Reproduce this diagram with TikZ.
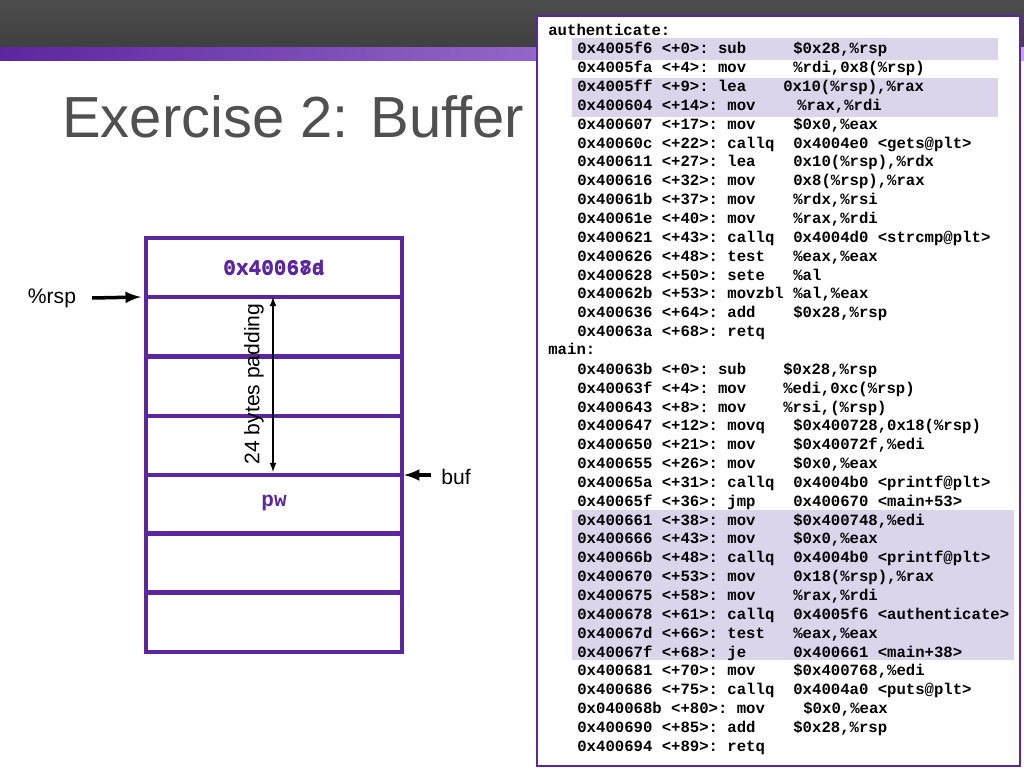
\documentclass[tikz,border=0pt]{standalone}
\usepackage{fontspec}
\setmainfont{Liberation Sans}
\setmonofont{Liberation Mono}
\begin{document}
\begin{tikzpicture}[x=0.02cm,y=-0.02cm]
  \definecolor{kPurple}{RGB}{92,38,160}
  \definecolor{kHigh}{RGB}{220,212,234}
  \definecolor{kTitle}{RGB}{80,80,80}
  \tikzset{
    cell/.style={draw=kPurple,line width=2pt},
    code/.style={anchor=base west,inner sep=0pt,font=\ttfamily\bfseries\fontsize{8.9}{10}\selectfont},
    val/.style={font=\ttfamily\bfseries\fontsize{12}{12}\selectfont,text=kPurple},
    pointer/.style={-latex,line width=2pt}
  }
  \useasboundingbox (0,0) rectangle (1024,768);
  % slide header
  \shade[top color=black!70,bottom color=black!75] (0,0) rectangle (1024,47);
  \shade[left color=kPurple,right color={rgb,255:red,200;green,160;blue,236}] (0,47) rectangle (1024,60);
  \node[anchor=west,text=kTitle,font=\fontsize{33}{33}\selectfont] (title) at (56,117) {Exercise 2: Buffer Overflow};

  % stack
  \foreach \y in {238,297,357,416,475,533,593}
    \draw[cell] (146,\y) rectangle (402,\y+59);
  \node[val] (ret1) at (274,268) {0x40067d};
  \node[val] (ret2) at (274,268) {0x40068a};
  \node[val] (pw) at (274,503) {pw};
  \coordinate (padtop) at (273,297);
  \coordinate (padbot) at (273,472);
  \draw[latex-latex,thick] (padtop) -- (padbot);
  \node[rotate=90,font=\fontsize{12}{12}\selectfont] (pad) at (254,384) {24 bytes padding};
  \node[font=\fontsize{12}{12}\selectfont] (rsp) at (52,298) {\%rsp};
  \coordinate (rspend) at (141,297);
  \draw[pointer] (rsp.east) ++(10,0) -- (rspend);
  \node[font=\fontsize{12}{12}\selectfont] (buf) at (456,477) {buf};
  \coordinate (bufend) at (404,475);
  \draw[pointer] (buf.west) ++(-4,-2) -- (bufend);

  % disassembly
  \draw[fill=white,draw=kPurple,line width=1.6pt] (537,16) rectangle (1020,766);
  \fill[kHigh] (572,38) rectangle (998,60);
  \fill[kHigh] (572,78) rectangle (998,117);
  \fill[kHigh] (572,510) rectangle (1014,660);
  \node[code] (auth) at (548,35) {authenticate:};
  \node[code] (main) at (548,354) {main:};
  \foreach \k/\a/\o/\x in {
      1/0x4005f6 <+0>: sub/{\$0x28,\%rsp}/793,
      2/0x4005fa <+4>: mov/{\%rdi,0x8(\%rsp)}/793,
      3/0x4005ff <+9>: lea/{0x10(\%rsp),\%rax}/783,
      4/0x400604 <+14>: mov/{\%rax,\%rdi}/797,
      5/0x400607 <+17>: mov/{\$0x0,\%eax}/793,
      6/0x40060c <+22>: callq/{0x4004e0 <gets@plt>}/793,
      7/0x400611 <+27>: lea/{0x10(\%rsp),\%rdx}/793,
      8/0x400616 <+32>: mov/{0x8(\%rsp),\%rax}/793,
      9/0x40061b <+37>: mov/{\%rdx,\%rsi}/793,
      10/0x40061e <+40>: mov/{\%rax,\%rdi}/793,
      11/0x400621 <+43>: callq/{0x4004d0 <strcmp@plt>}/793,
      12/0x400626 <+48>: test/{\%eax,\%eax}/793,
      13/0x400628 <+50>: sete/{\%al}/793,
      14/0x40062b <+53>: movzbl/{\%al,\%eax}/793,
      15/0x400636 <+64>: add/{\$0x28,\%rsp}/793,
      16/0x40063a <+68>: retq/{}/793,
      18/0x40063b <+0>: sub/{\$0x28,\%rsp}/783,
      19/0x40063f <+4>: mov/{\%edi,0xc(\%rsp)}/783,
      20/0x400643 <+8>: mov/{\%rsi,(\%rsp)}/783,
      21/0x400647 <+12>: movq/{\$0x400728,0x18(\%rsp)}/793,
      22/0x400650 <+21>: mov/{\$0x40072f,\%edi}/793,
      23/0x400655 <+26>: mov/{\$0x0,\%eax}/793,
      24/0x40065a <+31>: callq/{0x4004b0 <printf@plt>}/793,
      25/0x40065f <+36>: jmp/{0x400670 <main+53>}/793,
      26/0x400661 <+38>: mov/{\$0x400748,\%edi}/793,
      27/0x400666 <+43>: mov/{\$0x0,\%eax}/793,
      28/0x40066b <+48>: callq/{0x4004b0 <printf@plt>}/793,
      29/0x400670 <+53>: mov/{0x18(\%rsp),\%rax}/793,
      30/0x400675 <+58>: mov/{\%rax,\%rdi}/793,
      31/0x400678 <+61>: callq/{0x4005f6 <authenticate>}/793,
      32/0x40067d <+66>: test/{\%eax,\%eax}/793,
      33/0x40067f <+68>: je/{0x400661 <main+38>}/793,
      34/0x400681 <+70>: mov/{\$0x400768,\%edi}/793,
      35/0x400686 <+75>: callq/{0x4004a0 <puts@plt>}/793,
      36/0x040068b <+80>: mov/{\$0x0,\%eax}/803,
      37/0x400690 <+85>: add/{\$0x28,\%rsp}/793,
      38/0x400694 <+89>: retq/{}/793}
  {
    \node[code] (ins\k) at (577,35+18.85*\k) {\a};
    \node[code] (arg\k) at (\x,35+18.85*\k) {\o};
  }
\end{tikzpicture}
\end{document}
